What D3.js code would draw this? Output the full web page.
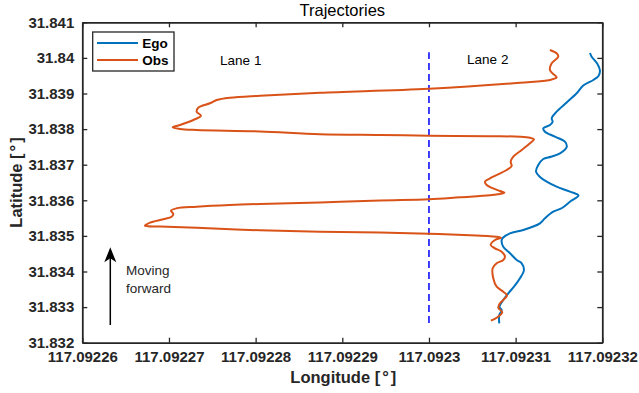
<!DOCTYPE html>
<html>
<head>
<meta charset="utf-8">
<script src="https://cdn.jsdelivr.net/npm/d3@7"></script>
<style>
  html, body { margin: 0; padding: 0; background: #fff; }
  svg { display: block; font-family: "Liberation Sans", Arial, Helvetica, sans-serif; }
</style>
</head>
<body>
<svg id="chart" width="639" height="393"></svg>
<script>
// ---------------- data ----------------
const xTickValues = [117.09226, 117.09227, 117.09228, 117.09229, 117.09230, 117.09231, 117.09232];
const xTickLabels = ["117.09226", "117.09227", "117.09228", "117.09229", "117.0923", "117.09231", "117.09232"];
const yTickValues = [31.832, 31.833, 31.834, 31.835, 31.836, 31.837, 31.838, 31.839, 31.840, 31.841];
const yTickLabels = ["31.832", "31.833", "31.834", "31.835", "31.836", "31.837", "31.838", "31.839", "31.84", "31.841"];

const seriesNames = ["Ego", "Obs"];

const egoLon = [
  117.09230811, 117.09230811, 117.09230839, 117.09230813, 117.09230857, 117.09230915, 117.09230981,
  117.09231050, 117.09231096, 117.09231070, 117.09231012, 117.09230935, 117.09230857, 117.09230839,
  117.09230857, 117.09230935, 117.09231088, 117.09231281, 117.09231338, 117.09231434, 117.09231535,
  117.09231627, 117.09231725, 117.09231627, 117.09231473, 117.09231358, 117.09231281, 117.09231235,
  117.09231261, 117.09231319, 117.09231408, 117.09231512, 117.09231589, 117.09231569, 117.09231454,
  117.09231338, 117.09231319, 117.09231396, 117.09231427, 117.09231416, 117.09231473, 117.09231589,
  117.09231704, 117.09231780, 117.09231896, 117.09231956, 117.09231973, 117.09231944, 117.09231877,
  117.09231858
];
const egoLat = [
  31.832545, 31.832778, 31.832919, 31.833011, 31.833199, 31.833388, 31.833573,
  31.833809, 31.834042, 31.834230, 31.834323, 31.834511, 31.834697, 31.834885,
  31.834955, 31.835073, 31.835166, 31.835354, 31.835494, 31.835680, 31.835784,
  31.835961, 31.836135, 31.836242, 31.836382, 31.836522, 31.836654, 31.836803,
  31.836992, 31.837160, 31.837225, 31.837320, 31.837497, 31.837646, 31.837787,
  31.837927, 31.838022, 31.838115, 31.838208, 31.838303, 31.838489, 31.838747,
  31.839006, 31.839225, 31.839379, 31.839492, 31.839646, 31.839829, 31.840034,
  31.840138
];

const obsLon = [
  117.09230715, 117.09230781, 117.09230846, 117.09230800, 117.09230819, 117.09230900, 117.09230857,
  117.09230781, 117.09230742, 117.09230735, 117.09230781, 117.09230857, 117.09230877, 117.09230839,
  117.09230762, 117.09230712, 117.09230762, 117.09230831, 117.09230704, 117.09230473, 117.09230000,
  117.09229435, 117.09228742, 117.09228050, 117.09227320, 117.09226896, 117.09226723, 117.09226781,
  117.09226934, 117.09227031, 117.09227050, 117.09227023, 117.09227089, 117.09227320, 117.09227704,
  117.09228050, 117.09228742, 117.09229435, 117.09230000, 117.09230358, 117.09230704, 117.09230796,
  117.09230871, 117.09230819, 117.09230666, 117.09230646, 117.09230704, 117.09230897, 117.09230954,
  117.09230943, 117.09230973, 117.09231070, 117.09231165, 117.09231212, 117.09231165, 117.09231050,
  117.09230704, 117.09230000, 117.09229435, 117.09228742, 117.09228050, 117.09227320, 117.09227127,
  117.09227043, 117.09227127, 117.09227281, 117.09227369, 117.09227320, 117.09227338, 117.09227473,
  117.09227551, 117.09227704, 117.09228050, 117.09228742, 117.09230000, 117.09231050, 117.09231396,
  117.09231473, 117.09231434, 117.09231396, 117.09231416, 117.09231492, 117.09231473, 117.09231396
];
const obsLat = [
  31.832618, 31.832702, 31.832854, 31.832983, 31.833107, 31.833326, 31.833433,
  31.833573, 31.833809, 31.834090, 31.834230, 31.834323, 31.834416, 31.834556,
  31.834652, 31.834744, 31.834885, 31.834949, 31.834989, 31.835017, 31.835062,
  31.835093, 31.835118, 31.835157, 31.835230, 31.835264, 31.835287, 31.835371,
  31.835466, 31.835539, 31.835615, 31.835708, 31.835775, 31.835820, 31.835868,
  31.835896, 31.835938, 31.835994, 31.836028, 31.836084, 31.836140, 31.836171,
  31.836213, 31.836261, 31.836430, 31.836522, 31.836618, 31.836851, 31.836963,
  31.837084, 31.837225, 31.837413, 31.837601, 31.837713, 31.837758, 31.837787,
  31.837801, 31.837815, 31.837834, 31.837857, 31.837933, 31.837975, 31.838003,
  31.838051, 31.838115, 31.838256, 31.838376, 31.838489, 31.838601, 31.838725,
  31.838817, 31.838882, 31.838938, 31.839022, 31.839135, 31.839303, 31.839379,
  31.839455, 31.839548, 31.839660, 31.839848, 31.840034, 31.840129, 31.840222
];

// lane divider (dashed) and annotations
const dividerLon = [117.09230, 117.09230];
const dividerLat = [31.83255, 31.84016];
const laneLabels = ["Lane 1", "Lane 2"];
const laneLabelLon = [117.0922759, 117.0923044];
const laneLabelLat = [31.83980, 31.83984];
const arrowLon = [117.09226323, 117.09226323];
const arrowLat = [31.832497, 31.834680];
const arrowText = ["Moving", "forward"];
const arrowTextLon = 117.09226505;
const arrowTextLat = [31.83391, 31.83340];

// ---------------- layout ----------------
const plot = { left: 82.3, right: 602.3, top: 22.3, bottom: 342.7 };
const axisColor = "#262626";
const colors = { Ego: "#0072BD", Obs: "#D95319" };

const svg = d3.select("#chart");

const x = d3.scaleLinear().domain([117.09226, 117.09232]).range([plot.left, plot.right]);
const y = d3.scaleLinear().domain([31.832, 31.841]).range([plot.bottom, plot.top]);

// ---------------- data lines ----------------
const line = d3.line()
  .x(d => x(d[0]))
  .y(d => y(d[1]))
  .curve(d3.curveCatmullRom.alpha(0.5));

const egoPts = egoLon.map((v, i) => [v, egoLat[i]]);
const obsPts = obsLon.map((v, i) => [v, obsLat[i]]);

// dashed divider
svg.append("path")
  .attr("d", d3.line()(dividerLon.map((v, i) => [x(v), y(dividerLat[i])])))
  .attr("fill", "none")
  .attr("stroke", "#0000FF")
  .attr("stroke-width", 1.5)
  .attr("stroke-dasharray", "7,4");

svg.append("path")
  .datum(egoPts)
  .attr("d", line)
  .attr("fill", "none")
  .attr("stroke", colors.Ego)
  .attr("stroke-width", 2)
  .attr("stroke-linejoin", "round");

svg.append("path")
  .datum(obsPts)
  .attr("d", line)
  .attr("fill", "none")
  .attr("stroke", colors.Obs)
  .attr("stroke-width", 2)
  .attr("stroke-linejoin", "round");

// ---------------- axes ----------------
function styleAxis(g) {
  g.attr("font-family", null).attr("font-size", null);
  g.selectAll("path.domain").attr("stroke", axisColor).attr("stroke-width", 1.8);
  g.selectAll(".tick line").attr("stroke", axisColor).attr("stroke-width", 1.3);
  g.selectAll(".tick text")
    .attr("fill", axisColor)
    .style("font-family", "'Liberation Sans', Arial, Helvetica, sans-serif")
    .style("font-size", "15px")
    .style("font-weight", "bold");
}

const xAxisB = d3.axisBottom(x).tickValues(xTickValues)
  .tickFormat((d, i) => xTickLabels[i]).tickSizeInner(-5).tickSizeOuter(0).tickPadding(9);
svg.append("g").attr("transform", `translate(0,${plot.bottom})`).call(xAxisB).call(styleAxis);

const xAxisT = d3.axisTop(x).tickValues(xTickValues)
  .tickFormat("").tickSizeInner(-5).tickSizeOuter(0);
svg.append("g").attr("transform", `translate(0,${plot.top})`).call(xAxisT).call(styleAxis);

const yAxisL = d3.axisLeft(y).tickValues(yTickValues)
  .tickFormat((d, i) => yTickLabels[i]).tickSizeInner(-5).tickSizeOuter(0).tickPadding(8);
svg.append("g").attr("transform", `translate(${plot.left},0)`).call(yAxisL).call(styleAxis);

const yAxisR = d3.axisRight(y).tickValues(yTickValues)
  .tickFormat("").tickSizeInner(-5).tickSizeOuter(0);
svg.append("g").attr("transform", `translate(${plot.right},0)`).call(yAxisR).call(styleAxis);

// ---------------- titles ----------------
svg.append("text")
  .attr("x", (plot.left + plot.right) / 2).attr("y", 15.5)
  .attr("text-anchor", "middle")
  .attr("fill", "#000")
  .style("font-size", "16.5px")
  .text("Trajectories");

function degLabel(sel, base) {
  sel.append("tspan").text(base + " [");
  sel.append("tspan").attr("dx", 2).text("°");
  sel.append("tspan").attr("dx", 2).text("]");
}

const xl = svg.append("text")
  .attr("x", (plot.left + plot.right) / 2 + 1).attr("y", 383)
  .attr("text-anchor", "middle")
  .attr("fill", axisColor)
  .style("font-size", "16.5px").style("font-weight", "bold");
degLabel(xl, "Longitude");

const yl = svg.append("text")
  .attr("transform", `translate(22,${(plot.top + plot.bottom) / 2}) rotate(-90)`)
  .attr("text-anchor", "middle")
  .attr("fill", axisColor)
  .style("font-size", "16.5px").style("font-weight", "bold");
degLabel(yl, "Latitude");

// ---------------- annotations ----------------
laneLabels.forEach((t, i) => {
  svg.append("text")
    .attr("x", x(laneLabelLon[i])).attr("y", y(laneLabelLat[i]))
    .attr("fill", "#000")
    .style("font-size", "13.5px")
    .text(t);
});

// arrow
const ax = x(arrowLon[0]);
const ay0 = y(arrowLat[0]), ay1 = y(arrowLat[1]);
svg.append("line")
  .attr("x1", ax).attr("x2", ax)
  .attr("y1", ay0).attr("y2", ay1 + 8)
  .attr("stroke", "#000").attr("stroke-width", 1.5);
svg.append("path")
  .attr("d", `M${ax},${ay1} L${ax - 6},${ay1 + 15} L${ax},${ay1 + 11} L${ax + 6},${ay1 + 15} Z`)
  .attr("fill", "#000");

arrowText.forEach((t, i) => {
  svg.append("text")
    .attr("x", x(arrowTextLon)).attr("y", y(arrowTextLat[i]))
    .attr("fill", "#262626")
    .style("font-size", "13.5px")
    .text(t);
});

// ---------------- legend ----------------
const leg = svg.append("g");
leg.append("rect")
  .attr("x", 92.7).attr("y", 32).attr("width", 81.3).attr("height", 39)
  .attr("fill", "#fff").attr("stroke", axisColor).attr("stroke-width", 1.3);
seriesNames.forEach((name, i) => {
  const ly = 43 + i * 17;
  leg.append("line")
    .attr("x1", 97).attr("x2", 138).attr("y1", ly).attr("y2", ly)
    .attr("stroke", colors[name]).attr("stroke-width", 2);
  leg.append("text")
    .attr("x", 142.3).attr("y", ly + 5)
    .attr("fill", "#000")
    .style("font-size", "13.5px").style("font-weight", "bold")
    .text(name);
});
</script>
</body>
</html>
